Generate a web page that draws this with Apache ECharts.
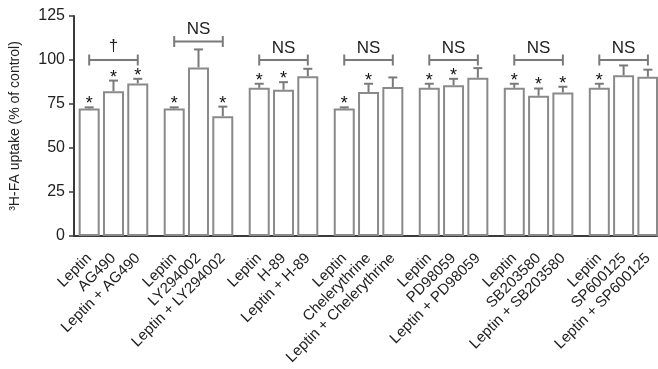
<!DOCTYPE html>
<html>
<head>
<meta charset="utf-8">
<script src="https://cdn.jsdelivr.net/npm/echarts@6/dist/echarts.min.js"></script>
<style>
html,body{margin:0;padding:0;background:#fff;}
#chart{width:658px;height:369px;}
</style>
</head>
<body>
<div id="chart"></div>
<script>
// ---- data ----
const categories = ['Leptin','AG490','Leptin + AG490',
  'Leptin','LY294002','Leptin + LY294002',
  'Leptin','H-89','Leptin + H-89',
  'Leptin','Chelerythrine','Leptin + Chelerythrine',
  'Leptin','PD98059','Leptin + PD98059',
  'Leptin','SB203580','Leptin + SB203580',
  'Leptin','SP600125','Leptin + SP600125'];
const means  = [72.5,82.3,86.7, 72.5,95.8,68.1, 84.2,83.1,90.8, 72.5,81.8,84.6, 84.2,85.7,89.9, 84.2,79.7,81.6, 84.2,91.4,90.5];
const errors = [0.6,6.0,2.6, 0.6,10.2,5.4, 2.3,4.3,4.2, 0.6,4.7,5.5, 2.3,3.6,5.5, 2.3,4.1,3.2, 2.3,5.5,4.0];
const significant = [1,1,1, 1,0,1, 1,1,0, 1,1,0, 1,1,0, 1,1,1, 1,0,0];
const groupLabels = ['†','NS','NS','NS','NS','NS','NS'];
const bracketLevels = [100,110.5,100,100,100,100,100];
const yMin = 0, yMax = 125, yStep = 25;
const yTitle = '³H-FA uptake (% of control)';

// ---- layout mapping: quarter-slot category axis ----
const LEAD = 2, GROUP_SPAN = 14, BAR_SPAN = 4, TOTAL = 96;
const slotOf = (k) => LEAD + Math.floor(k / 3) * GROUP_SPAN + (k % 3) * BAR_SPAN;
const axisCats = new Array(TOTAL).fill('');
const barData = new Array(TOTAL).fill('-');
categories.forEach((c, k) => { axisCats[slotOf(k)] = c; barData[slotOf(k)] = means[k]; });
const errData = means.map((m, k) => [slotOf(k), m, errors[k], significant[k]]);
const bracketData = groupLabels.map((lab, g) => [slotOf(g*3), slotOf(g*3+2), bracketLevels[g], lab]);

const FONT = 'Liberation Sans, Arial, sans-serif';
const chart = echarts.init(document.getElementById('chart'));
chart.setOption({
  animation: false,
  backgroundColor: '#fff',
  grid: {left: 72, right: 1, top: 16, bottom: 133},
  xAxis: {
    type: 'category',
    data: axisCats,
    axisLine: {lineStyle: {color: '#3a3a3a', width: 2}},
    axisTick: {alignWithLabel: true, length: 7, lineStyle: {color: '#3a3a3a', width: 1.5},
      interval: (i, v) => v !== ''},
    axisLabel: {interval: (i, v) => v !== '', rotate: 45, margin: 20,
      fontFamily: FONT, fontSize: 15, color: '#222'}
  },
  yAxis: {
    type: 'value', min: yMin, max: yMax, interval: yStep,
    name: yTitle, nameLocation: 'middle', nameGap: 52,
    nameTextStyle: {fontFamily: FONT, fontSize: 14, color: '#222'},
    axisLine: {show: true, lineStyle: {color: '#3a3a3a', width: 2}},
    axisTick: {show: true, length: 5, lineStyle: {color: '#3a3a3a', width: 1.5}},
    splitLine: {show: false},
    axisLabel: {margin: 9, fontFamily: FONT, fontSize: 16, color: '#222'}
  },
  series: [
    {
      type: 'bar', data: barData, barWidth: 21,
      itemStyle: {color: '#fff', borderColor: '#8a8a8a', borderWidth: 2}
    },
    {
      type: 'custom', data: errData, encode: {x: 0, y: 1}, clip: false, z: 5,
      renderItem: (params, api) => {
        const x = api.value(0), m = api.value(1), e = api.value(2), s = api.value(3);
        const p0 = api.coord([x, m]);
        const p1 = api.coord([x, m + e]);
        const half = 4.5;
        const style = {stroke: '#7a7a7a', lineWidth: 2};
        const children = [
          {type: 'line', shape: {x1: p0[0], y1: p0[1], x2: p1[0], y2: p1[1]}, style},
          {type: 'line', shape: {x1: p1[0]-half, y1: p1[1], x2: p1[0]+half, y2: p1[1]}, style}
        ];
        if (s) children.push({type: 'text', style: {text: '*', x: p1[0], y: p1[1] - 3,
          align: 'center', verticalAlign: 'middle', fontSize: 18,
          fontFamily: FONT, fill: '#111'}});
        return {type: 'group', children};
      }
    },
    {
      type: 'custom', data: bracketData, encode: {x: 0, y: 2}, clip: false, z: 5,
      renderItem: (params, api) => {
        const a = api.coord([api.value(0), api.value(2)]);
        const b = api.coord([api.value(1), api.value(2)]);
        const lab = bracketData[params.dataIndex][3];
        const style = {stroke: '#7a7a7a', lineWidth: 2};
        return {type: 'group', children: [
          {type: 'line', shape: {x1: a[0], y1: a[1], x2: b[0], y2: b[1]}, style},
          {type: 'line', shape: {x1: a[0], y1: a[1]-5.5, x2: a[0], y2: a[1]+5.5}, style},
          {type: 'line', shape: {x1: b[0], y1: b[1]-5.5, x2: b[0], y2: b[1]+5.5}, style},
          {type: 'text', style: {text: lab, x: (a[0]+b[0])/2, y: a[1] - (lab === '†' ? 14 : 12),
            align: 'center', verticalAlign: 'middle', fontSize: 17,
            fontFamily: FONT, fill: '#222'}}
        ]};
      }
    }
  ]
});
</script>
</body>
</html>
